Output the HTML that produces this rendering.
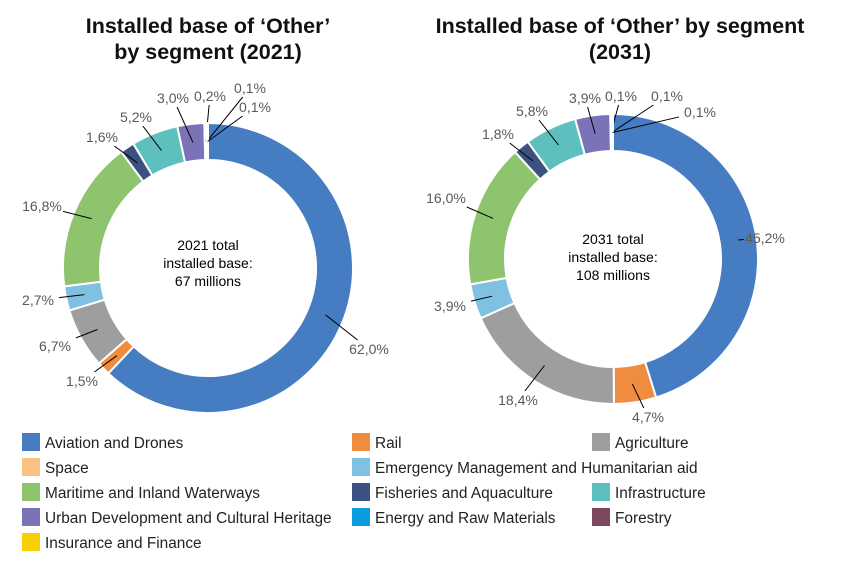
<!DOCTYPE html>
<html><head><meta charset="utf-8"><style>
body{margin:0;background:#fff;width:858px;height:566px;overflow:hidden;font-family:"Liberation Sans",sans-serif}
svg{position:absolute;left:0;top:0}
</style></head><body>
<svg id="c" width="858" height="566">
<text x="208" y="33" text-anchor="middle" font-size="21.5" font-weight="bold" fill="#111">Installed base of ‘Other’</text>
<text x="208" y="59" text-anchor="middle" font-size="21.5" font-weight="bold" fill="#111">by segment (2021)</text>
<text x="620" y="33" text-anchor="middle" font-size="21.5" font-weight="bold" fill="#111">Installed base of ‘Other’ by segment</text>
<text x="620" y="59" text-anchor="middle" font-size="21.5" font-weight="bold" fill="#111">(2031)</text>
<text x="208" y="250" text-anchor="middle" font-size="14">2021 total</text>
<text x="208" y="268" text-anchor="middle" font-size="14">installed base:</text>
<text x="208" y="286" text-anchor="middle" font-size="14">67 millions</text>
<text x="613" y="244" text-anchor="middle" font-size="14">2031 total</text>
<text x="613" y="262" text-anchor="middle" font-size="14">installed base:</text>
<text x="613" y="280" text-anchor="middle" font-size="14">108 millions</text>
</svg>
<script>
const categories=["Aviation and Drones","Rail","Agriculture","Space","Emergency Management and Humanitarian aid","Maritime and Inland Waterways","Fisheries and Aquaculture","Infrastructure","Urban Development and Cultural Heritage","Energy and Raw Materials","Forestry","Insurance and Finance"];
const values2021=[62.0,1.5,6.7,0,2.7,16.8,1.6,5.2,3.0,0.2,0.1,0.1];
const values2031=[45.2,4.7,18.4,0,3.9,16.0,1.8,5.8,3.9,0.1,0.1,0.1];
const labels2021=["62,0%","1,5%","6,7%","","2,7%","16,8%","1,6%","5,2%","3,0%","0,2%","0,1%","0,1%"];
const labels2031=["45,2%","4,7%","18,4%","","3,9%","16,0%","1,8%","5,8%","3,9%","0,1%","0,1%","0,1%"];
const colors=["#467dc2","#ef8c3f","#9e9e9e","#f9c283","#80c0e0","#8dc46d","#3b5280","#5ebfbf","#7b73b8","#0b9de0","#7e4760","#f7d000"];
// layout only: label centre offsets from donut centre
const pos2021=[[161,81],[-126,113],[-153,78],[0,0],[-170,32],[-166,-62],[-106,-131],[-72,-151],[-35,-170],[2,-172],[42,-180],[47,-161]];
const pos2031=[[152,-21],[35,158],[-95,141],[0,0],[-163,47],[-167,-61],[-115,-125],[-81,-148],[-28,-161],[8,-163],[54,-163],[87,-147]];
const NS="http://www.w3.org/2000/svg";
const svg=document.getElementById('c');
function mk(t,a){const e=document.createElementNS(NS,t);for(const k in a)e.setAttribute(k,a[k]);svg.appendChild(e);return e;}
function donut(vals,labs,cx,cy,pos,tag){
 const R=145,r=108,tot=vals.reduce((a,b)=>a+b,0);
 let acc=0;
 vals.forEach((v,i)=>{
  const a0=acc/tot*2*Math.PI;acc+=v;const a1=acc/tot*2*Math.PI;
  if(v>0){
   const p=(a,rr)=>[cx+rr*Math.sin(a),cy-rr*Math.cos(a)];
   const lg=(a1-a0)>Math.PI?1:0;
   const [x0,y0]=p(a0,R),[x1,y1]=p(a1,R),[x2,y2]=p(a1,r),[x3,y3]=p(a0,r);
   const path=mk('path',{d:`M${x0},${y0}A${R},${R} 0 ${lg} 1 ${x1},${y1}L${x2},${y2}A${r},${r} 0 ${lg} 0 ${x3},${y3}Z`,fill:colors[i],stroke:'#fff','stroke-width':2});
   
   
   if(labs[i]){
    const am=(a0+a1)/2;
    const [mx,my]=p(am,(R+r)/2);
    const tx=cx+pos[i][0],ty=cy+pos[i][1];
    const dx=mx-tx,dy=my-ty,d=Math.hypot(dx,dy);
    const ux=dx/d,uy=dy/d;
    const k=Math.min(21/Math.max(Math.abs(ux),0.01),9/Math.max(Math.abs(uy),0.01));
    const ln=mk('line',{x1:mx,y1:my,x2:tx+ux*k,y2:ty+uy*k,stroke:'#000','stroke-width':1});
    
    
    const t=mk('text',{x:tx,y:ty+5,'text-anchor':'middle','font-size':14,fill:'#595959'});
    t.textContent=labs[i];
    
    
   }
  }
 });
}
donut(values2021,labels2021,208,268,pos2021,'2021');
donut(values2031,labels2031,613,259,pos2031,'2031');
const lx=[22,352,592],ly=[433,458,483,508,533];
categories.forEach((c,i)=>{
 let col,row;
 if(i<3){col=i;row=0}else if(i<5){col=i-3;row=1}else{const j=i-5;col=j%3;row=2+Math.floor(j/3)}
 const rc=mk('rect',{x:lx[col],y:ly[row],width:18,height:18,fill:colors[i]});
 
 
 const t=mk('text',{x:lx[col]+23,y:ly[row]+15,'font-size':15.4,fill:'#222'});
 t.textContent=c;
 
 
});
</script>
</body></html>
